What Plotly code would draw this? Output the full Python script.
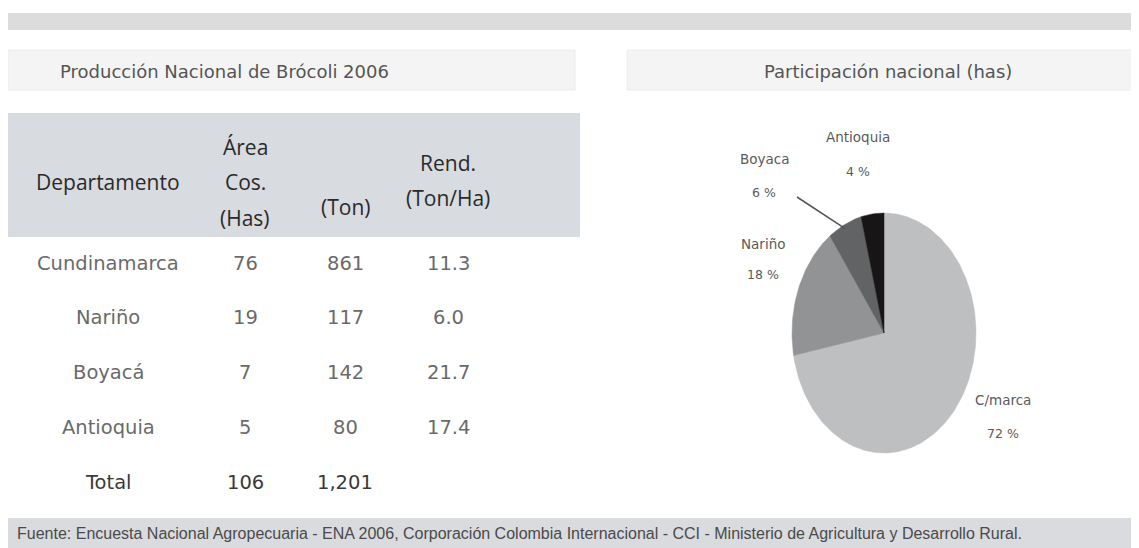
import math
import plotly.graph_objects as go

# ---------------- data ----------------
departamentos = ["Cundinamarca", "Nariño", "Boyacá", "Antioquia", "Total"]
area_has = ["76", "19", "7", "5", "106"]
produccion_ton = ["861", "117", "142", "80", "1,201"]
rendimiento = ["11.3", "6.0", "21.7", "17.4", ""]

pie_labels = ["C/marca", "Nariño", "Boyaca", "Antioquia"]
pie_pct = [72, 18, 6, 4]
pie_colors = ["#bebfc1", "#929395", "#626365", "#181516"]

title_left = "Producción Nacional de Brócoli 2006"
title_right = "Participación nacional (has)"
source = ("Fuente: Encuesta Nacional Agropecuaria - ENA 2006, Corporación Colombia Internacional - "
          "CCI - Ministerio de Agricultura y Desarrollo Rural.")

W, H = 1139, 548
OFF = 8  # page body margin: the plot starts 8px in from the window edge
BODY_FONT = "DejaVu Sans"
HEAD_FONT = "Open Sans"

fig = go.Figure()

# ---------------- background shapes ----------------
shapes = [
    dict(type="rect", x0=8, x1=W, y0=13, y1=30, fillcolor="#dcdcdc", line_width=0, layer="below"),
    dict(type="rect", x0=8, x1=575, y0=50, y1=90, fillcolor="#f4f4f4",
         line=dict(color="#ececec", width=1), layer="below"),
    dict(type="rect", x0=627, x1=1132, y0=50, y1=90, fillcolor="#f4f4f4",
         line=dict(color="#ececec", width=1), layer="below"),
    dict(type="rect", x0=8, x1=580, y0=113, y1=237, fillcolor="#d8dbdf", line_width=0, layer="below"),
    dict(type="rect", x0=8, x1=W, y0=518, y1=H, fillcolor="#d9dbde", line_width=0, layer="below"),
]

annotations = []

def txt(x, y, s, size, color, family=BODY_FONT, xanchor="center"):
    annotations.append(dict(x=x, y=y, xref="x", yref="y", text=s, showarrow=False,
                            xanchor=xanchor, yanchor="middle",
                            font=dict(family=family, size=size, color=color)))

# titles
txt(58, 71, title_left, 18, "#555555", xanchor="left")
txt(888, 71, title_right, 18, "#555555")

# table header
col_x = [108, 245, 345, 448]
HC = "#2a2a2a"
txt(col_x[0], 182, "Departamento", 21, HC, HEAD_FONT)
txt(col_x[1], 147, "Área", 21, HC, HEAD_FONT)
txt(col_x[1], 182, "Cos.", 21, HC, HEAD_FONT)
txt(col_x[1], 218, "(Has)", 21, HC, HEAD_FONT)
txt(col_x[2], 207, "(Ton)", 21, HC, HEAD_FONT)
txt(col_x[3], 163, "Rend.", 21, HC, HEAD_FONT)
txt(col_x[3], 198, "(Ton/Ha)", 21, HC, HEAD_FONT)

# table body
row_y0, row_dy = 263, 54.8
for i, dep in enumerate(departamentos):
    y = row_y0 + i * row_dy
    color = "#3a3a3a" if dep == "Total" else "#6a6a6a"
    for j, val in enumerate([dep, area_has[i], produccion_ton[i], rendimiento[i]]):
        if val:
            txt(col_x[j], y, val, 19.5, color)

# ---------------- pie (elliptical, drawn from the percentages) ----------------
cx, cy, rx, ry = 884, 333, 92, 120
total = sum(pie_pct)
start = 0.0
mids = []
for lab, pct, col in zip(pie_labels, pie_pct, pie_colors):
    a0 = start
    a1 = start + pct / total * 2 * math.pi
    n = max(4, int(pct * 3))
    xs, ys = [cx], [cy]
    for k in range(n + 1):
        t = a0 + (a1 - a0) * k / n
        xs.append(cx + rx * math.sin(t))
        ys.append(cy - ry * math.cos(t))
    xs.append(cx)
    ys.append(cy)
    fig.add_trace(go.Scatter(x=xs, y=ys, mode="lines", fill="toself", fillcolor=col,
                             line=dict(color=col, width=0.5), name=lab,
                             hoverinfo="name", showlegend=False))
    mids.append((a0 + a1) / 2)
    start = a1

# pie labels
label_pos = {
    "C/marca": (1003, 400, 433),
    "Nariño": (763, 244, 274),
    "Boyaca": (764, 159, 192),
    "Antioquia": (858, 137, 171),
}
for lab, pct in zip(pie_labels, pie_pct):
    x, y1, y2 = label_pos[lab]
    txt(x, y1, lab, 13.5, "#5a5a5a")
    txt(x, y2, f"{pct} %", 12.5, "#5a5a5a")

# leader line for Boyaca, ending on its slice edge
bi = pie_labels.index("Boyaca")
ex = cx + rx * math.sin(mids[bi])
ey = cy - ry * math.cos(mids[bi])
shapes.append(dict(type="line", x0=797, y0=197, x1=ex, y1=ey + 4,
                   line=dict(color="#555555", width=1.5)))

# source
txt(15, 533, source, 16, "#4a4a4a", "Liberation Sans Narrow, Liberation Sans", xanchor="left")

fig.update_layout(
    width=W - OFF, height=H - OFF, autosize=False,
    margin=dict(l=0, r=0, t=0, b=0),
    paper_bgcolor="white", plot_bgcolor="white",
    xaxis=dict(range=[OFF, W], visible=False, fixedrange=True),
    yaxis=dict(range=[H, OFF], visible=False, fixedrange=True),
    shapes=shapes, annotations=annotations,
    showlegend=False,
)

fig.write_html("out.html")
